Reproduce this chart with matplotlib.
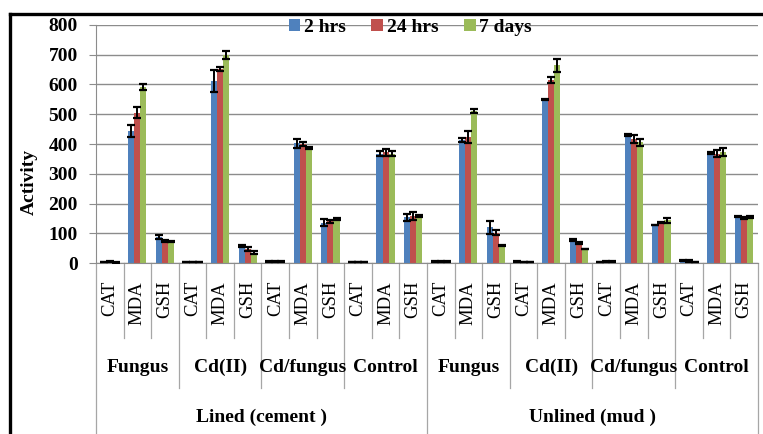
import numpy as np
import matplotlib
matplotlib.use("Agg")
import matplotlib.pyplot as plt
from matplotlib.lines import Line2D

plt.rcParams['font.family'] = ['Liberation Serif', 'DejaVu Serif']

# category levels
sites = ["Lined (cement )", "Unlined (mud )"]
treatments = ["Fungus", "Cd(II)", "Cd/fungus", "Control"]
measures = ["CAT", "MDA", "GSH"]
series = ["2 hrs", "24 hrs", "7 days"]

# activity values, 24 bars per series (site > treatment > measure)
hrs2 = [3, 443, 88, 3, 612, 57, 5, 402, 136, 4, 368, 153,
        6, 413, 120, 6, 550, 77, 4, 430, 128, 9, 370, 156]
hrs24 = [6, 505, 75, 3, 651, 47, 5, 400, 140, 4, 372, 157,
         6, 425, 102, 3, 615, 68, 6, 416, 137, 7, 368, 152]
days7 = [2, 590, 72, 4, 699, 35, 5, 387, 149, 4, 368, 158,
         6, 512, 60, 3, 665, 46, 6, 406, 143, 4, 372, 155]

# standard errors
err2 = [1, 20, 7, 1, 37, 4, 2, 16, 13, 0.5, 9, 12,
        1, 6, 22, 2, 2, 4, 1, 2, 0, 2, 4, 3]
err24 = [2, 18, 3, 1, 7, 6, 2, 8, 6, 0.5, 12, 13,
         1, 20, 8, 1, 10, 3, 1, 13, 2, 2, 13, 3]
err7 = [1, 10, 3, 1, 12, 6, 2, 3, 3, 0.5, 10, 3,
        1, 7, 2, 1, 22, 0, 1, 12, 7, 1, 14, 4]

colors = ["#4F81BD", "#C0504D", "#9BBB59"]
grid_c = "#8C8C8C"
sep_c = "#A6A6A6"

fig = plt.figure(figsize=(7.63, 4.34), dpi=100)
ax = fig.add_axes([0.1258, 0.394, 0.9934 - 0.1258, 0.9424 - 0.394])

x = np.arange(len(hrs2))
w = 0.22
for k, (vals, errs) in enumerate([(hrs2, err2), (hrs24, err24), (days7, err7)]):
    ax.bar(x + (k - 1) * w, vals, w, color=colors[k], label=series[k], zorder=2,
           yerr=errs, capsize=3,
           error_kw=dict(ecolor="black", elinewidth=1.4, capthick=1.6, zorder=3))

ax.set_xlim(-0.5, len(x) - 0.5)
ax.set_ylim(0, 800)
ax.set_yticks(range(0, 801, 100))
ax.yaxis.grid(True, color=grid_c, lw=1.0, zorder=0)
ax.set_axisbelow(True)
for s in ["top", "right"]:
    ax.spines[s].set_visible(False)
ax.spines["left"].set_color(grid_c)
ax.spines["bottom"].set_color(grid_c)
ax.tick_params(axis="y", length=5, color=grid_c, pad=8, labelsize=14)
for t in ax.get_yticklabels():
    t.set_fontweight("bold")

ax.set_xticks(x)
ax.set_xticklabels(measures * (len(sites) * len(treatments)), rotation=90, fontsize=13.5)
ax.tick_params(axis="x", length=0, pad=13)

ax.set_ylabel("Activity", fontsize=14, fontweight="bold")
ax.yaxis.set_label_coords(-0.088, 0.34)

# separators of the multi-level category axis
tr = ax.get_xaxis_transform()
for b in range(len(x) + 1):
    if b % 12 == 0:
        y1 = -0.76
    elif b % 3 == 0:
        y1 = -0.525
    else:
        y1 = -0.315
    ax.add_line(Line2D([b - 0.5, b - 0.5], [0, y1], transform=tr, color=sep_c,
                       lw=0.9, clip_on=False))

for i, site in enumerate(sites):
    for j, tname in enumerate(treatments):
        cx = i * 12 + j * 3 + 1
        ax.text(cx, -0.437, tname, transform=tr, ha="center", va="center",
                fontsize=14, fontweight="bold")
    ax.text(i * 12 + 5.5, -0.647, site, transform=tr, ha="center", va="center",
            fontsize=14, fontweight="bold")

ax.legend(loc="center", bbox_to_anchor=(0.475, 0.99), ncol=3, frameon=False,
          prop=dict(size=14, weight="bold"), handlelength=0.6, handleheight=0.6,
          handletextpad=0.2, columnspacing=1.3, borderpad=0)

# chart border
fig.add_artist(Line2D([10 / 763, 1], [1 - 14 / 434] * 2, color="black", lw=2.4))
fig.add_artist(Line2D([10 / 763] * 2, [0, 1 - 14 / 434], color="black", lw=2.4))

fig.savefig("out.png", dpi=100)
